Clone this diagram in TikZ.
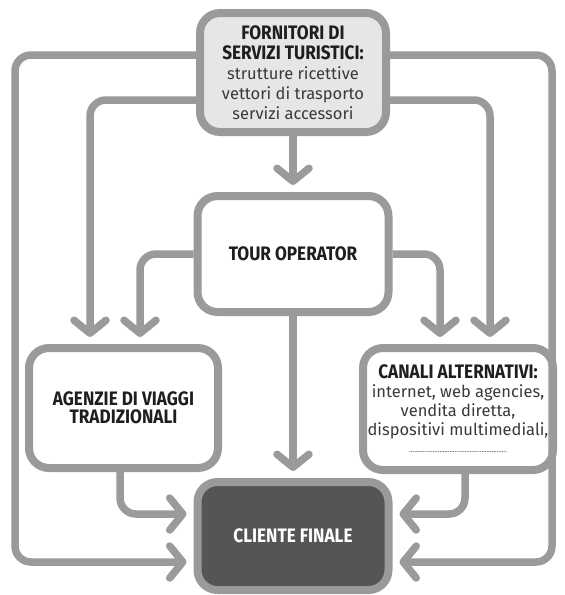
\documentclass[tikz,border=0pt]{standalone}
\usepackage{fontspec}
\setmainfont{Fira Sans}[BoldFeatures={FakeStretch=0.88}]
\usetikzlibrary{arrows.meta}
\definecolor{linegray}{HTML}{9A9A9A}
\definecolor{boxfill}{HTML}{E6E6E6}
\definecolor{darkfill}{HTML}{555555}
\definecolor{inkdark}{HTML}{1E1E1E}
\definecolor{bodyink}{HTML}{3A3A3A}
\newcommand{\ttl}[1]{{\fontsize{19.5}{20}\selectfont\bfseries #1}}
\newcommand{\bdy}[1]{{\fontsize{16.5}{20}\selectfont\color{bodyink}#1}}
\begin{document}
\begin{tikzpicture}[x=1pt,y=-1pt,
  box/.style={draw=linegray, line width=8pt, rounded corners=20pt, align=center,
    inner sep=0pt, text=inkdark, fill=white, font=\fontsize{17}{20}\selectfont},
  conn/.style={draw=linegray, line width=7.5pt, rounded corners=16pt,
    -{Straight Barb[length=13pt,width=32pt,round]}, shorten >=7pt},
]
% canvas
\path[fill=white] (0,0) rectangle (565,595);

% boxes
\node[box, fill=boxfill, minimum width=186pt, minimum height=119pt] (forn) at (293,72.5)
  {\ttl{FORNITORI DI}\\\ttl{SERVIZI TURISTICI:}\\\bdy{strutture ricettive}\\\bdy{vettori di trasporto}\\\bdy{servizi accessori}};
\node[box, minimum width=191pt, minimum height=116pt] (tour) at (293,254)
  {\ttl{TOUR OPERATOR}};
\node[box, minimum width=189pt, minimum height=120pt] (agenz) at (123.5,408)
  {\ttl{AGENZIE DI VIAGGI}\\[-2pt]\ttl{TRADIZIONALI}};
\node[box, minimum width=190pt, minimum height=122pt] (canali) at (458,409)
  {\ttl{CANALI ALTERNATIVI:}\\[-1pt]
   \bdy{internet, web agencies,}\\[-1pt]\bdy{vendita diretta,}\\[-1pt]\bdy{dispositivi multimediali,}\\[-3pt]
   {\color{bodyink}\fontsize{7}{8}\selectfont ..........................................................}};
\node[box, fill=darkfill, text=white, minimum width=191pt, minimum height=108pt] (cliente) at (293,536)
  {\ttl{CLIENTE FINALE}};

% supply chain flows
\draw[conn] (forn) -- (tour);
\draw[conn] (tour) -- (cliente);

\draw[conn] (forn.west |- 0,55) -- (15,55) -- (15,562) -- (cliente.west |- 0,562);
\draw[conn] (forn.west |- 0,100) -- (90,100) -- (agenz.north -| 90,0);
\draw[conn] (tour.west) -- (140,254) -- (agenz.north -| 140,0);

\draw[conn] (forn.east |- 0,55) -- (552,55) -- (552,562) -- (cliente.east |- 0,562);
\draw[conn] (forn.east |- 0,100) -- (490,100) -- (canali.north -| 490,0);
\draw[conn] (tour.east) -- (440,254) -- (canali.north -| 440,0);

\draw[conn] (agenz.south -| 120,0) -- (120,514) -- (cliente.west |- 0,514);
\draw[conn] (canali.south -| 465,0) -- (465,514) -- (cliente.east |- 0,514);
\end{tikzpicture}
\end{document}
